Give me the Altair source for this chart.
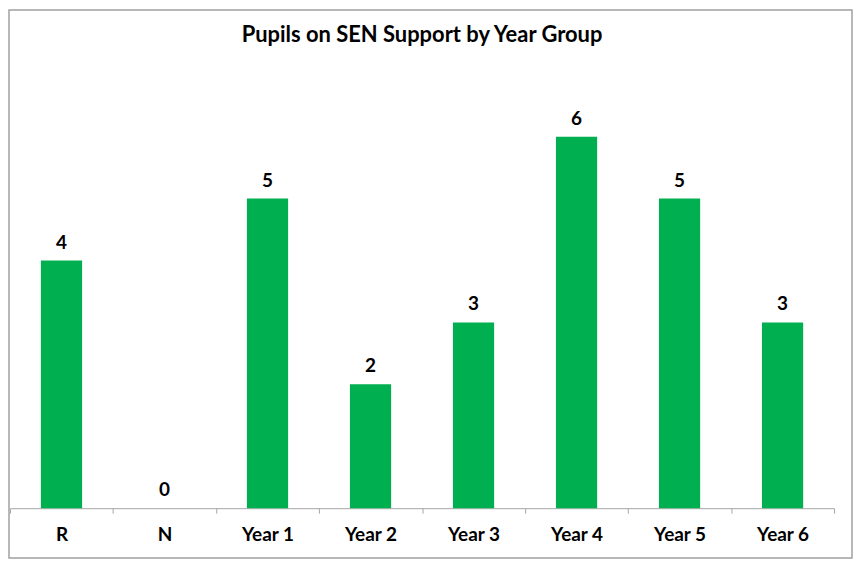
import altair as alt
import pandas as pd

categories = ["R", "N", "Year 1", "Year 2", "Year 3", "Year 4", "Year 5", "Year 6"]
values = [4, 0, 5, 2, 3, 6, 5, 3]

df = pd.DataFrame({"group": categories, "pupils": values})

FONT = "Lato"
W, H = 827, 435
PL, PT, PR, PB = 2, 66, 19, 51

x_enc = alt.X(
    "group:N",
    sort=categories,
    scale=alt.Scale(paddingInner=0, paddingOuter=0),
    axis=alt.Axis(
        title=None,
        labelAngle=0,
        labelFont=FONT,
        labelFontWeight="bold",
        labelFontSize=19,
        labelColor="#000000",
        labelPadding=12,
        tickBand="extent",
        tickSize=5,
        tickColor="#a6a6a6",
        domainColor="#a6a6a6",
        domainWidth=1,
        grid=False,
    ),
)
y_enc = alt.Y("pupils:Q", scale=alt.Scale(domain=[0, 7], nice=False), axis=None)

bars = alt.Chart(df).mark_bar(color="#00B050", width=alt.RelativeBandSize(0.4)).encode(
    x=x_enc, y=y_enc
)

labels = alt.Chart(df).mark_text(
    font=FONT, fontWeight="bold", fontSize=19, color="#000000",
    baseline="alphabetic", dy=-12
).encode(x=x_enc, y=y_enc, text="pupils:Q")

border = alt.Chart(pd.DataFrame({"a": [0]})).mark_rect(
    fill=None, stroke="#a0a0a0", strokeWidth=1.5
).encode(
    x=alt.value(-PL + 1),
    x2=alt.value(W + PR - 1),
    y=alt.value(-PT + 1),
    y2=alt.value(H + PB - 1),
)

chart = alt.layer(border, bars, labels).properties(
    width=W,
    height=H,
    title=alt.TitleParams(
        "Pupils on SEN Support by Year Group",
        font=FONT, fontSize=22, fontWeight="bold", color="#000000",
        anchor="middle", offset=-38,
    ),
    autosize=alt.AutoSizeParams(type="none"),
    padding={"left": PL, "top": PT, "right": PR, "bottom": PB},
).configure(background="white", view=alt.ViewConfig(stroke="transparent"))

chart.save("out.html", embed_options={"renderer": "svg", "actions": False})
